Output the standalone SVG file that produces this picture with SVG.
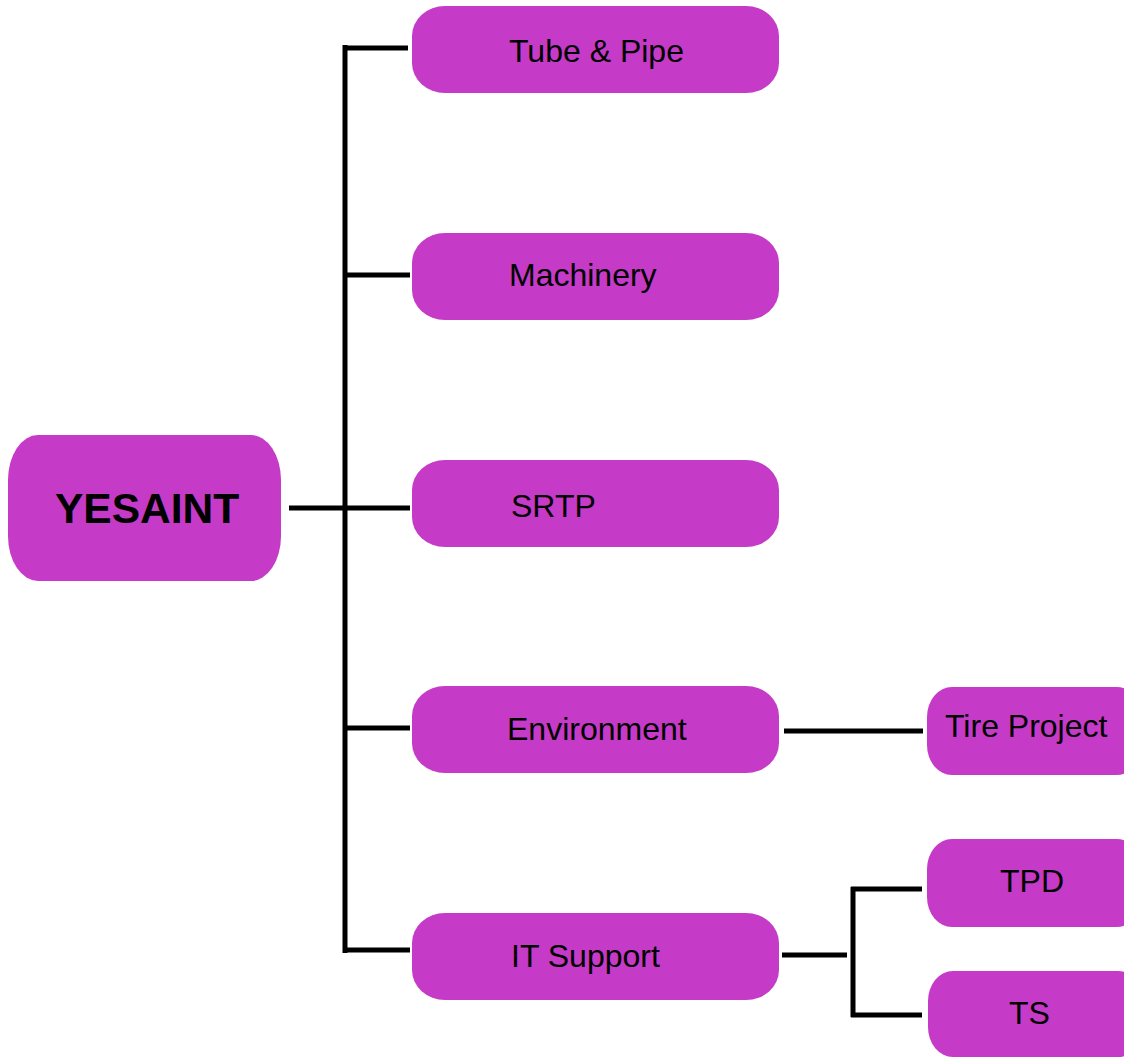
<svg xmlns="http://www.w3.org/2000/svg" width="1124" height="1057" viewBox="0 0 1124 1057">
<style>
.box{fill:#C53AC6;}
.t{font-family:"Liberation Sans",Arial,sans-serif;font-size:32px;fill:#000;}
.tb{font-family:"Liberation Sans",Arial,sans-serif;font-size:42.5px;font-weight:bold;fill:#000;}
.c{stroke:#000;stroke-width:5;fill:none;}
</style>
<rect width="1124" height="1057" fill="#fff"/>
<g id="connectors">
<path class="c" d="M289 508H410"/>
<path class="c" d="M345 45V953"/>
<path class="c" d="M343 48H408"/>
<path class="c" d="M345 275H410"/>
<path class="c" d="M345 728H410"/>
<path class="c" d="M343 950H410"/>
<path class="c" d="M784 731H923"/>
<path class="c" d="M782 955H847"/>
<path class="c" d="M853 887V1017"/>
<path class="c" d="M851 889H922"/>
<path class="c" d="M851 1015H922"/>
</g>
<g id="yesaint"><rect class="box" x="8" y="435" width="273" height="146" rx="30" ry="45"/><text class="tb" x="55" y="523">YESAINT</text></g>
<g id="tube"><rect class="box" x="412" y="6" width="367" height="87" rx="33" ry="30"/><text class="t" x="509" y="62">Tube &amp; Pipe</text></g>
<g id="machinery"><rect class="box" x="412" y="233" width="367" height="87" rx="33" ry="30"/><text class="t" x="509" y="286">Machinery</text></g>
<g id="srtp"><rect class="box" x="412" y="460" width="367" height="87" rx="33" ry="30"/><text class="t" x="511" y="517">SRTP</text></g>
<g id="environment"><rect class="box" x="412" y="686" width="367" height="87" rx="33" ry="30"/><text class="t" x="507" y="740">Environment</text></g>
<g id="itsupport"><rect class="box" x="412" y="913" width="367" height="87" rx="33" ry="30"/><text class="t" x="511" y="967">IT Support</text></g>
<g id="tire"><rect class="box" x="927" y="687" width="215" height="88" rx="25" ry="30"/><text class="t" x="945" y="737">Tire Project</text></g>
<g id="tpd"><rect class="box" x="927" y="839" width="215" height="88" rx="25" ry="30"/><text class="t" x="1000" y="892">TPD</text></g>
<g id="ts"><rect class="box" x="928" y="971" width="215" height="86" rx="25" ry="30"/><text class="t" x="1009" y="1024">TS</text></g>
</svg>
